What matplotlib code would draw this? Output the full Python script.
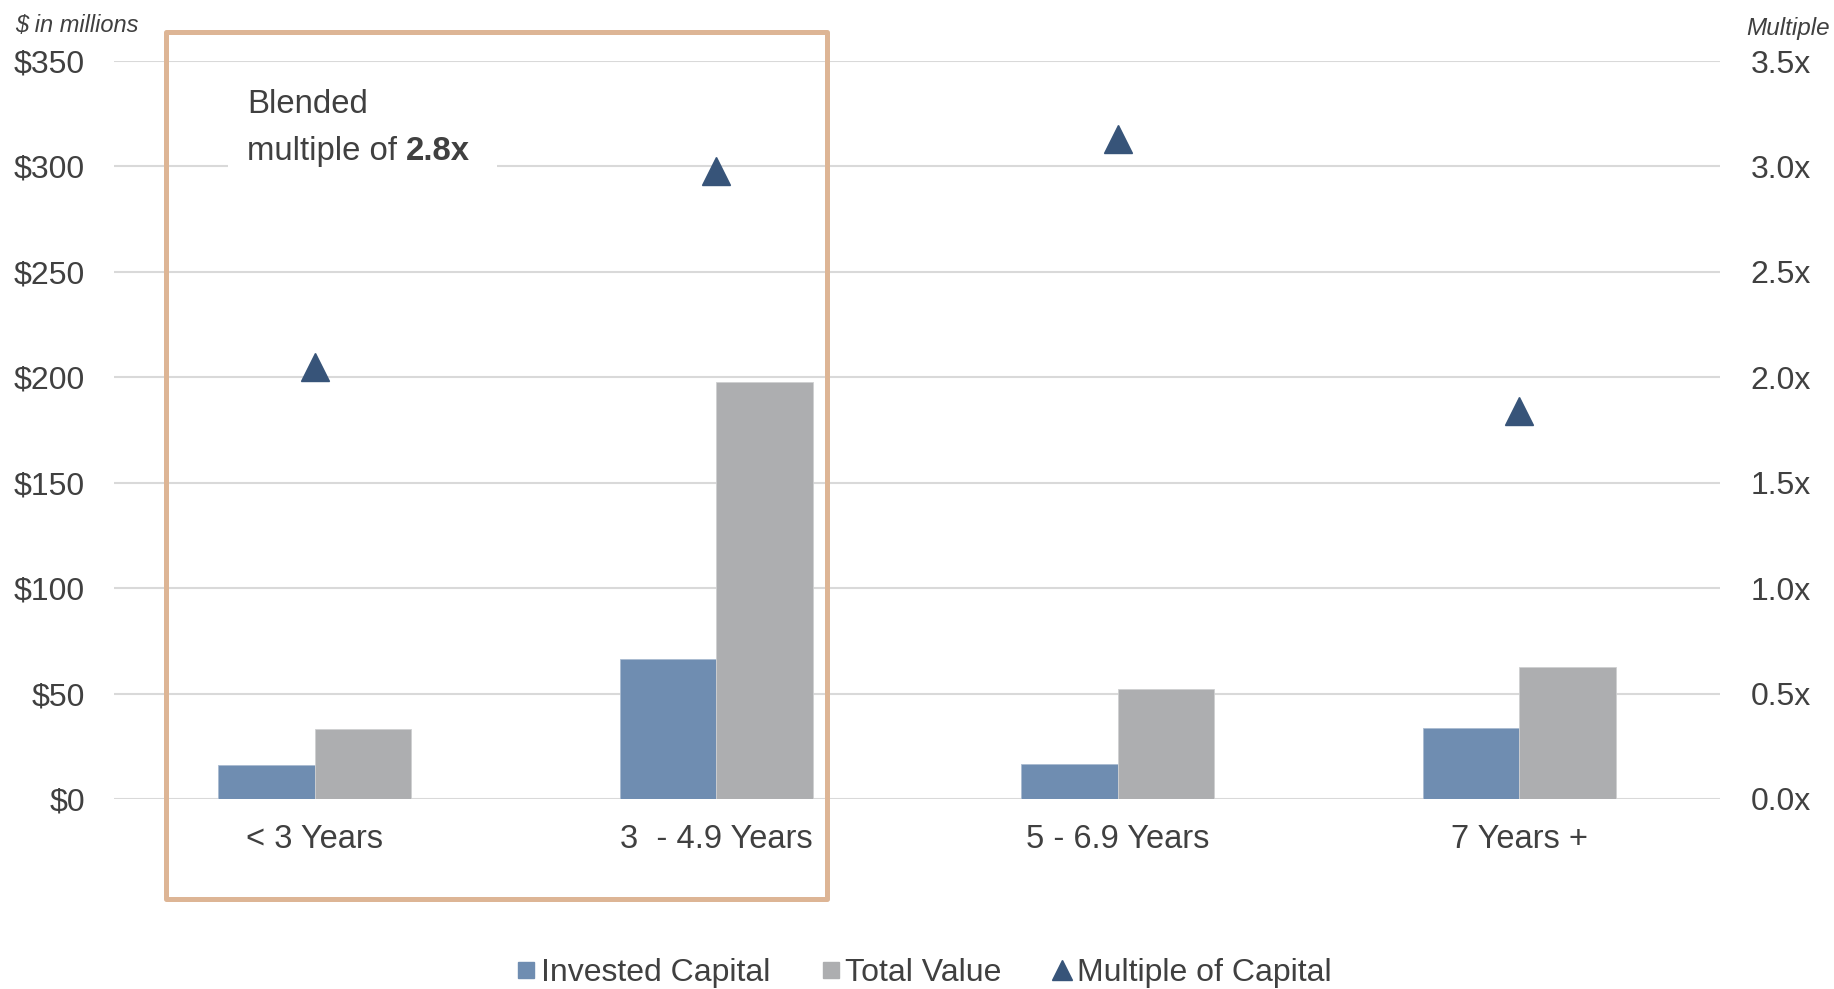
import matplotlib
matplotlib.use("Agg")
import numpy as np
import matplotlib.pyplot as plt
from matplotlib.lines import Line2D
from matplotlib.patches import Rectangle
from matplotlib.text import Annotation

# Datos del grafico
categories = ["< 3 Years", "3  - 4.9 Years", "5 - 6.9 Years", "7 Years +"]
invested_capital = [16.3, 66.3, 16.8, 33.9]
total_value = [33.4, 197.8, 52.4, 62.7]
multiple_of_capital = [2.05, 2.98, 3.13, 1.84]

dollar_ticks = [0, 50, 100, 150, 200, 250, 300, 350]
dollar_labels = ["$0", "$50", "$100", "$150", "$200", "$250", "$300", "$350"]
multiple_ticks = [0.0, 0.5, 1.0, 1.5, 2.0, 2.5, 3.0, 3.5]
multiple_labels = ["0.0x", "0.5x", "1.0x", "1.5x", "2.0x", "2.5x", "3.0x", "3.5x"]

# Colores
blue = "#6F8DB1"
grey = "#ADAEB0"
navy = "#375479"
orange = "#DDB595"
text_color = "#404040"
grid_color = "#D9D9D9"

plt.rcParams["font.family"] = ["Liberation Sans", "DejaVu Sans"]

W, H = 1834, 989
fig = plt.figure(figsize=(W / 100, H / 100), dpi=100)

# Ejes principales
ax = fig.add_axes([114 / W, 1 - 799 / H, (1720 - 114) / W, (799 - 61) / H])
x = np.arange(len(categories))
bw = 0.24
ax.bar(x - bw / 2, invested_capital, width=bw, color=blue, edgecolor="#A9BBD0", linewidth=0.6, zorder=2)
ax.bar(x + bw / 2, total_value, width=bw, color=grey, edgecolor="#CFD0D1", linewidth=0.6, zorder=2)
ax.set_xlim(-0.5, len(categories) - 0.5)
ax.set_ylim(0, 350)
ax.set_yticks(dollar_ticks)
ax.set_yticklabels(dollar_labels)
ax.set_xticks(x)
ax.set_xticklabels(categories)
ax.tick_params(axis="y", length=0, pad=21, labelsize=23, labelcolor=text_color)
ax.tick_params(axis="x", length=0, pad=18, labelsize=23.5, labelcolor=text_color)
ax.grid(True, axis="y", color=grid_color, linewidth=1.5)
ax.set_axisbelow(True)
for s in ax.spines.values():
    s.set_visible(False)

# Eje secundario (multiplo)
ax2 = ax.twinx()
ax2.plot(x, multiple_of_capital, linestyle="none", marker="^", markersize=20, color=navy, zorder=3)
ax2.set_ylim(0, 3.5)
ax2.set_yticks(multiple_ticks)
ax2.set_yticklabels(multiple_labels)
ax2.tick_params(axis="y", length=0, pad=22, labelsize=23, labelcolor=text_color)
for s in ax2.spines.values():
    s.set_visible(False)

# Titulos de los ejes
fig.text(15 / W, 1 - 32 / H, "$ in millions", fontsize=17, style="italic", color=text_color, va="baseline", ha="left")
fig.text(1830 / W, 1 - 35 / H, "Multiple", fontsize=17.5, style="italic", color=text_color, va="baseline", ha="right")

# Recuadro y nota
fig.add_artist(Rectangle((228 / W, 1 - 178 / H), (497 - 228) / W, (178 - 75) / H,
                         transform=fig.transFigure, facecolor="white", edgecolor="none", zorder=1))
fig.add_artist(Rectangle((166 / W, 1 - 899 / H), (827 - 166) / W, (899 - 32) / H,
                         transform=fig.transFigure, fill=False, edgecolor=orange, linewidth=3.6,
                         joinstyle="round", zorder=2))
fig.text(247 / W, 1 - 113 / H, "Blended", fontsize=23.7, color=text_color, va="baseline", ha="left", zorder=3)
t2 = fig.text(247 / W, 1 - 160 / H, "multiple of", fontsize=23.7, color=text_color, va="baseline", ha="left", zorder=3)
bold_part = Annotation("2.8x", xy=(1, 0), xycoords=t2, xytext=(6.6, 0), textcoords="offset points",
                       fontsize=23.7, fontweight="bold", color=text_color, va="bottom", ha="left", zorder=3)
fig.add_artist(bold_part)

# Leyenda
handles = [
    Line2D([], [], linestyle="none", marker="s", markersize=11.5, color=blue),
    Line2D([], [], linestyle="none", marker="s", markersize=11.5, color=grey),
    Line2D([], [], linestyle="none", marker="^", markersize=14.5, color=navy),
]
fig.legend(handles, ["Invested Capital", "Total Value", "Multiple of Capital"],
           loc="center", bbox_to_anchor=(924 / W, 1 - 973 / H), ncol=3, frameon=False,
           fontsize=23, labelcolor=text_color, handlelength=0.6, handletextpad=0.15,
           columnspacing=1.6, borderpad=0)

fig.savefig("out.png", dpi=100)
